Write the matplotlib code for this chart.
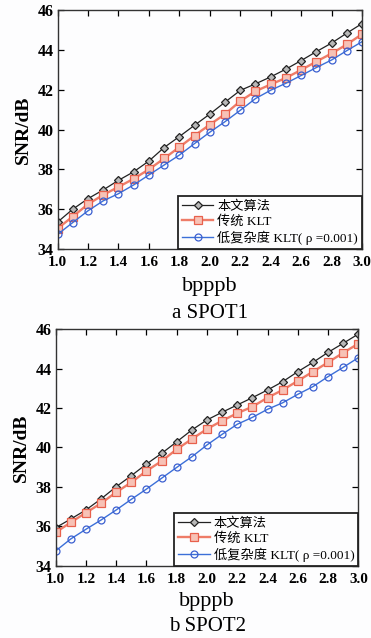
import numpy as np
import matplotlib
matplotlib.use('Agg')
import matplotlib.pyplot as plt

plt.rcParams['font.family'] = ['Liberation Serif', 'Noto Sans CJK SC', 'DejaVu Sans']

# ---- data ----
bpppb = [1.0, 1.1, 1.2, 1.3, 1.4, 1.5, 1.6, 1.7, 1.8, 1.9, 2.0,
         2.1, 2.2, 2.3, 2.4, 2.5, 2.6, 2.7, 2.8, 2.9, 3.0]

labels = ['本文算法', '传统 KLT', '低复杂度 KLT( ρ =0.001)']

# SPOT1
ours1 = [35.35, 36.0, 36.53, 36.97, 37.45, 37.88, 38.42, 39.1, 39.65, 40.22, 40.78,
         41.38, 41.97, 42.3, 42.65, 43.04, 43.47, 43.92, 44.35, 44.85, 45.33]
klt1 = [35.03, 35.63, 36.25, 36.72, 37.12, 37.53, 38.0, 38.55, 39.12, 39.7, 40.25,
        40.78, 41.43, 41.93, 42.27, 42.6, 43.0, 43.42, 43.83, 44.28, 44.8]
low1 = [34.73, 35.33, 35.92, 36.42, 36.78, 37.22, 37.72, 38.22, 38.72, 39.3, 39.87,
        40.4, 40.97, 41.56, 41.98, 42.33, 42.72, 43.12, 43.5, 43.97, 44.42]

# SPOT2
ours2 = [35.93, 36.37, 36.83, 37.39, 38.01, 38.57, 39.16, 39.7, 40.29, 40.89, 41.4,
         41.79, 42.16, 42.53, 42.92, 43.34, 43.85, 44.32, 44.83, 45.29, 45.76]
klt2 = [35.69, 36.2, 36.69, 37.17, 37.73, 38.23, 38.81, 39.31, 39.91, 40.43, 40.94,
        41.36, 41.74, 42.07, 42.53, 42.92, 43.38, 43.85, 44.32, 44.81, 45.27]
low2 = [34.75, 35.36, 35.85, 36.32, 36.83, 37.37, 37.89, 38.44, 38.99, 39.53, 40.13,
        40.67, 41.18, 41.53, 41.94, 42.27, 42.7, 43.09, 43.6, 44.07, 44.56]

xticks = [1.0, 1.2, 1.4, 1.6, 1.8, 2.0, 2.2, 2.4, 2.6, 2.8, 3.0]
yticks = [34, 36, 38, 40, 42, 44, 46]

fig = plt.figure(figsize=(3.71, 6.38), dpi=100, facecolor='#fdfdfe')


def draw(ax, ours, klt, low):
	ax.set_facecolor('#fdfdfe')
	ax.plot(bpppb, ours, color='#222222', lw=0.9, marker='D', ms=4.5,
	        mfc='#b8b8b8', mec='#222222', mew=0.9, label=labels[0])
	ax.plot(bpppb, klt, color='#ee7c68', lw=1.7, marker='s', ms=5.5,
	        mfc='#f7c2b6', mec='#e8604c', mew=0.9, label=labels[1])
	ax.plot(bpppb, low, color='#3b6fd8', lw=1.0, marker='o', ms=5,
	        mfc='none', mec='#3b5fd0', mew=0.9, label=labels[2])
	ax.set_xlim(1.0, 3.0)
	ax.set_ylim(34, 46)
	ax.set_xticks(xticks)
	ax.set_xticklabels(['%.1f' % v for v in xticks], fontweight='bold', fontsize=11)
	ax.set_yticks(yticks)
	ax.set_yticklabels([str(v) for v in yticks], fontweight='bold', fontsize=11.5)
	ax.tick_params(direction='in', top=True, right=True, length=4, width=0.9, pad=3)
	ax.tick_params(axis='x', pad=5)
	for s in ax.spines.values():
		s.set_linewidth(1.0)
		s.set_color('#333333')
	ax.set_ylabel('SNR/dB', fontsize=14, fontweight='bold', labelpad=4)
	leg = ax.legend(loc='lower right', borderaxespad=0, fontsize=9.5, frameon=True,
	                fancybox=False, handlelength=2.4, handletextpad=0.3,
	                labelspacing=0.2, borderpad=0.3)
	leg.get_frame().set_edgecolor('#222222')
	leg.get_frame().set_linewidth(1.3)
	leg.get_frame().set_facecolor('#fdfdfe')
	leg.get_frame().set_alpha(1)


ax1 = fig.add_axes([0.155, 0.6097, 0.821, 0.3743])
draw(ax1, ours1, klt1, low1)
ax2 = fig.add_axes([0.150, 0.1133, 0.816, 0.3706])
draw(ax2, ours2, klt2, low2)

fig.text(0.566, 0.5506, 'bpppb', ha='center', va='center', fontsize=16)
fig.text(0.566, 0.509, 'a SPOT1', ha='center', va='center', fontsize=15)
fig.text(0.558, 0.057, 'bpppb', ha='center', va='center', fontsize=16)
fig.text(0.558, 0.0177, 'b SPOT2', ha='center', va='center', fontsize=15)

fig.savefig('out.png', dpi=100, facecolor=fig.get_facecolor())
